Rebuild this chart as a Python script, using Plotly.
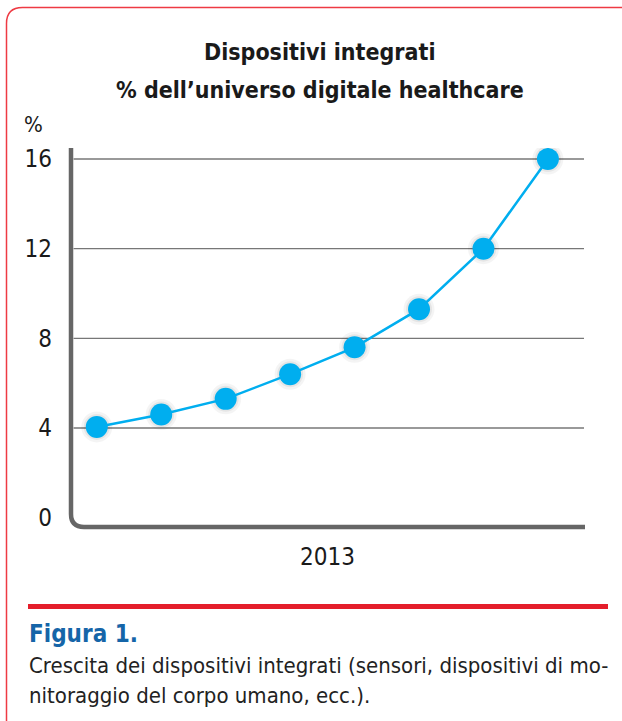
import plotly.graph_objects as go

# ---- data ----
x_idx = [0, 1, 2, 3, 4, 5, 6, 7]
values = [4.05, 4.6, 5.3, 6.4, 7.6, 9.3, 12.0, 16.0]
y_ticks = [0, 4, 8, 12, 16]
grid_vals = [4, 8, 12, 16]
x_label = "2013"
title_lines = ["Dispositivi integrati", "% dell\u2019universo digitale healthcare"]
fig_label = "Figura 1."
caption_lines = ["Crescita dei dispositivi integrati (sensori, dispositivi di mo-",
                 "nitoraggio del corpo umano, ecc.)."]

W, H = 622, 721
L, R, T, B = 71, 38, 148, 194
PW, PH = W - L - R, H - T - B
FONT = "DejaVu Sans Condensed, Liberation Sans Narrow, Liberation Sans, Arial, sans-serif"
CYAN = "#00AEEF"


def px(xp):
    return (xp - L) / PW


def py(yp):
    return (H - B - yp) / PH


fig = go.Figure()
# soft shadow
fig.add_trace(go.Scatter(x=x_idx, y=values, mode="markers",
                         marker=dict(size=31, color="rgba(0,0,0,0.045)", line=dict(width=0)),
                         hoverinfo="skip", showlegend=False))
fig.add_trace(go.Scatter(x=x_idx, y=values, mode="markers",
                         marker=dict(size=26, color="rgba(0,0,0,0.06)", line=dict(width=0)),
                         hoverinfo="skip", showlegend=False))
fig.add_trace(go.Scatter(x=x_idx, y=values, mode="lines+markers",
                         line=dict(color=CYAN, width=2.5),
                         marker=dict(size=22, color=CYAN, line=dict(width=0)),
                         showlegend=False))

shapes = []
for g in grid_vals:
    shapes.append(dict(type="line", xref="paper", yref="y", x0=0.005, x1=1, y0=g, y1=g,
                       line=dict(color="#777777", width=1.3), layer="below"))
rx, ry = 13 / PW, 13 / PH
shapes.append(dict(type="path", xref="paper", yref="paper",
                   path=f"M0,{py(148)} L0,{ry} Q0,0 {rx},0 L{px(585)},0",
                   line=dict(color="#666666", width=4.5)))
fx, fy = px(6.5), py(7.5)
cr = 16
shapes.append(dict(type="path", xref="paper", yref="paper",
                   path=(f"M{fx},{py(722)} L{fx},{py(7.5 + cr)} "
                         f"Q{fx},{fy} {px(6.5 + cr)},{fy} L{px(624)},{fy}"),
                   line=dict(color="#EE3A43", width=1.5)))
shapes.append(dict(type="line", xref="paper", yref="paper",
                   x0=px(28), x1=px(608), y0=py(606.5), y1=py(606.5),
                   line=dict(color="#E41E2B", width=5)))

DARK = "#1a1a1a"
annotations = [
    dict(text=title_lines[0], x=px(320), y=py(52), xref="paper", yref="paper",
         showarrow=False, xanchor="center", yanchor="middle",
         font=dict(family=FONT, size=23, color=DARK, weight="bold")),
    dict(text=title_lines[1], x=px(320), y=py(90), xref="paper", yref="paper",
         showarrow=False, xanchor="center", yanchor="middle",
         font=dict(family=FONT, size=23, color=DARK, weight="bold")),
    dict(text="%", x=px(22), y=py(124), xref="paper", yref="paper",
         showarrow=False, xanchor="left", yanchor="middle",
         font=dict(family=FONT, size=22, color=DARK)),
    dict(text=x_label, x=px(327), y=py(557), xref="paper", yref="paper",
         showarrow=False, xanchor="center", yanchor="middle",
         font=dict(family=FONT, size=24, color=DARK)),
    dict(text=fig_label, x=px(27), y=py(634), xref="paper", yref="paper",
         showarrow=False, xanchor="left", yanchor="middle",
         font=dict(family=FONT, size=24, color="#1565A8", weight="bold")),
    dict(text=caption_lines[0], x=px(27), y=py(665), xref="paper", yref="paper",
         showarrow=False, xanchor="left", yanchor="middle",
         font=dict(family=FONT, size=22, color="#222222")),
    dict(text=caption_lines[1], x=px(27), y=py(695), xref="paper", yref="paper",
         showarrow=False, xanchor="left", yanchor="middle",
         font=dict(family=FONT, size=22, color="#222222")),
]

fig.update_layout(
    width=W, height=H,
    margin=dict(l=L, r=R, t=T, b=B, pad=0),
    paper_bgcolor="white", plot_bgcolor="white",
    shapes=shapes, annotations=annotations,
    xaxis=dict(range=[-0.4, 7.56], showgrid=False, zeroline=False, showline=False,
               showticklabels=False, ticks=""),
    yaxis=dict(range=[-0.415, 16.49], tickvals=y_ticks, ticktext=[str(v) for v in y_ticks],
               showgrid=False, zeroline=False, showline=False, ticks="",
               ticklabelstandoff=18,
               tickfont=dict(family=FONT, size=24, color=DARK)),
    font=dict(family=FONT),
)

fig.write_html("out.html", config={"displayModeBar": False},
               post_script="document.body.style.margin='0px';")
